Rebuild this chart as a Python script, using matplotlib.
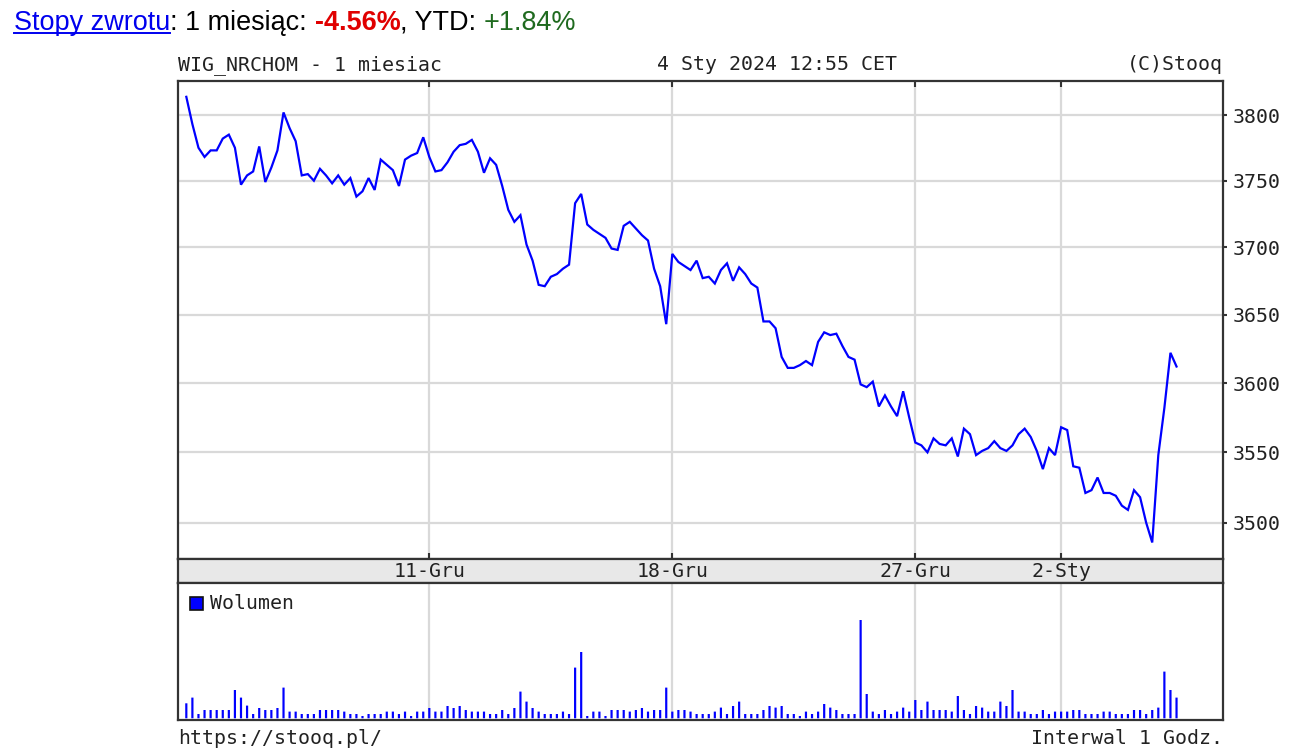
import matplotlib
matplotlib.use("Agg")
import matplotlib.pyplot as plt
from matplotlib.ticker import FixedLocator, FuncFormatter, NullLocator, NullFormatter
from matplotlib.patches import Rectangle
from matplotlib.lines import Line2D
import matplotlib.transforms as mtransforms

# ---------------- data ----------------
price = [3814, 3793, 3775, 3768, 3773, 3773, 3782, 3785, 3775, 3747,
         3754, 3757, 3776, 3749, 3760, 3773, 3802, 3790, 3780, 3754,
         3755, 3750, 3759, 3754, 3748, 3754, 3747, 3752, 3738, 3742,
         3752, 3743, 3766, 3762, 3758, 3746, 3766, 3769, 3771, 3783,
         3768, 3757, 3758, 3764, 3772, 3777, 3778, 3781, 3772, 3756,
         3767, 3762, 3746, 3728, 3719, 3724, 3702, 3690, 3672, 3671,
         3678, 3680, 3684, 3687, 3733, 3740, 3717, 3713, 3710, 3707,
         3699, 3698, 3716, 3719, 3714, 3709, 3705, 3684, 3671, 3643,
         3695, 3689, 3686, 3683, 3690, 3677, 3678, 3673, 3683, 3688,
         3675, 3685, 3680, 3673, 3670, 3645, 3645, 3640, 3619, 3611,
         3611, 3613, 3616, 3613, 3630, 3637, 3635, 3636, 3627, 3619,
         3617, 3599, 3597, 3601, 3583, 3591, 3583, 3576, 3594, 3575,
         3557, 3555, 3550, 3560, 3556, 3555, 3560, 3547, 3567, 3563,
         3548, 3551, 3553, 3558, 3553, 3551, 3555, 3563, 3567, 3561,
         3551, 3538, 3553, 3548, 3568, 3566, 3540, 3539, 3521, 3523,
         3532, 3521, 3521, 3519, 3512, 3509, 3523, 3518, 3500, 3486,
         3548, 3582, 3622, 3612]

volume = [15.0, 20.7, 4.3, 8.3, 8.3, 8.3, 8.3, 8.3, 28.3, 20.7,
          12.7, 4.3, 10.3, 8.3, 8.3, 10.3, 30.7, 6.7, 6.7, 4.3,
          4.3, 4.3, 8.3, 8.3, 8.3, 8.3, 6.7, 4.3, 4.3, 2.3,
          4.3, 4.3, 4.3, 6.7, 6.7, 4.3, 6.7, 2.3, 6.7, 6.7,
          10.3, 6.7, 6.7, 12.3, 10.3, 12.3, 8.3, 6.7, 6.7, 6.7,
          4.3, 4.3, 8.3, 4.3, 10.3, 26.7, 16.7, 10.3, 6.7, 4.3,
          4.3, 4.3, 6.7, 4.3, 50.7, 66.3, 2.3, 6.7, 6.7, 2.3,
          8.3, 8.3, 8.3, 6.7, 8.3, 10.3, 6.7, 8.3, 8.3, 30.7,
          6.7, 8.3, 8.3, 6.7, 4.3, 4.3, 4.3, 6.7, 10.7, 4.3,
          12.3, 16.7, 4.3, 4.3, 4.3, 8.3, 12.3, 10.7, 12.3, 4.3,
          4.3, 2.3, 6.7, 4.3, 6.7, 14.3, 10.7, 8.3, 4.3, 4.3,
          4.3, 98.3, 24.3, 6.7, 4.3, 8.3, 4.3, 6.7, 10.7, 6.7,
          18.3, 8.3, 16.7, 8.3, 8.3, 8.3, 6.7, 22.3, 8.3, 4.3,
          12.3, 10.7, 6.7, 6.7, 16.7, 12.3, 28.3, 6.7, 6.7, 4.3,
          4.3, 8.3, 4.3, 6.7, 6.7, 6.7, 8.3, 8.3, 4.3, 4.3,
          4.3, 6.7, 6.7, 4.3, 4.3, 4.3, 8.3, 8.3, 4.3, 8.3,
          10.7, 46.7, 28.3, 20.7]

date_tick_pos = [40, 80, 120, 144]
date_tick_labels = ["11-Gru", "18-Gru", "27-Gru", "2-Sty"]
price_ticks = [3500, 3550, 3600, 3650, 3700, 3750, 3800]

title_left = "WIG_NRCHOM - 1 miesiac"
title_mid = "4 Sty 2024 12:55 CET"
title_right = "(C)Stooq"
footer_left = "https://stooq.pl/"
footer_right = "Interwal 1 Godz."
legend_label = "Wolumen"

idx = list(range(len(price)))

# ---------------- layout ----------------
W, H = 1314, 752
fig = plt.figure(figsize=(W / 100, H / 100), dpi=100)
fig.patch.set_facecolor("white")


def fx(px):
    return px / W


def fy(py):
    return 1 - py / H


LEFT, RIGHT = 178.3, 1222.7
MAIN_TOP, MAIN_BOT = 81, 559
BAND_BOT = 583
VOL_BOT = 720

MONO = "DejaVu Sans Mono"
FS = 14.3
BORDER = "#333333"
GRID = "#d9d9d9"
BLUE = "#0000ff"
TXT = "#222222"
XLIM = (-1.32, 170.6)


def frame(a):
    for s in a.spines.values():
        s.set_color(BORDER)
        s.set_linewidth(1.6)


# main price axes
ax = fig.add_axes([fx(LEFT), fy(MAIN_BOT), fx(RIGHT - LEFT), (MAIN_BOT - MAIN_TOP) / H])
ax.set_yscale("log")
ax.set_ylim(3474.4, 3826.2)
ax.set_xlim(*XLIM)
ax.plot(idx, price, color=BLUE, lw=1.6, solid_joinstyle="miter", zorder=3)
ax.yaxis.set_major_locator(FixedLocator(price_ticks))
ax.yaxis.set_major_formatter(FuncFormatter(lambda v, p: f"{v:.0f}"))
ax.yaxis.set_minor_locator(NullLocator())
ax.yaxis.set_minor_formatter(NullFormatter())
ax.yaxis.tick_right()
ax.tick_params(axis="y", which="major", direction="out", length=3, width=1.5,
               color=BORDER, pad=4, labelsize=FS, labelcolor=TXT)
for lab in ax.get_yticklabels():
    lab.set_family(MONO)
ax.set_xticks(date_tick_pos)
ax.tick_params(axis="x", which="major", direction="in", length=4, width=1.5,
               color=BORDER, top=True, bottom=False, labelbottom=False)
ax.grid(True, color=GRID, lw=1.6, zorder=0)
ax.set_axisbelow(True)
frame(ax)

# date band
axb = fig.add_axes([fx(LEFT), fy(BAND_BOT), fx(RIGHT - LEFT), (BAND_BOT - MAIN_BOT) / H])
axb.set_facecolor("#e8e8e8")
axb.set_xlim(*XLIM)
axb.set_ylim(0, 1)
axb.set_yticks([])
axb.set_xticks(date_tick_pos)
axb.tick_params(axis="x", direction="out", length=4, width=1.5, color=BORDER,
                top=True, bottom=True, labelbottom=False)
trans = mtransforms.blended_transform_factory(axb.transData, axb.transAxes)
for pos, lab in zip(date_tick_pos, date_tick_labels):
    axb.text(pos, 0.47, lab, ha="center", va="center", transform=trans,
             family=MONO, fontsize=FS, color=TXT)
frame(axb)

# volume axes
axv = fig.add_axes([fx(LEFT), fy(VOL_BOT), fx(RIGHT - LEFT), (VOL_BOT - BAND_BOT) / H])
axv.set_xlim(*XLIM)
axv.set_ylim(-1.7, 135.3)
bars = axv.bar(idx, volume, width=0.36, color=BLUE, linewidth=0, zorder=3)
for b in bars:
    b.set_snap(False)
axv.set_yticks([])
axv.set_xticks(date_tick_pos)
axv.tick_params(axis="x", length=0, labelbottom=False)
axv.grid(True, axis="x", color=GRID, lw=1.6, zorder=0)
axv.set_axisbelow(True)
frame(axv)

# legend box
fig.patches.append(Rectangle((fx(190), fy(610)), fx(13), 13 / H, transform=fig.transFigure,
                             facecolor=BLUE, edgecolor="#111111", lw=1.2))
fig.text(fx(210), fy(603.5), legend_label, ha="left", va="center",
         family=MONO, fontsize=FS, color=TXT)

# titles
fig.text(fx(LEFT), fy(65), title_left, ha="left", va="center", family=MONO, fontsize=FS, color=TXT)
fig.text(fx(777), fy(65), title_mid, ha="center", va="center", family=MONO, fontsize=FS, color=TXT)
fig.text(fx(RIGHT), fy(65), title_right, ha="right", va="center", family=MONO, fontsize=FS, color=TXT)

# footer
fig.text(fx(LEFT), fy(739), footer_left, ha="left", va="center", family=MONO, fontsize=FS, color=TXT)
fig.text(fx(RIGHT), fy(739), footer_right, ha="right", va="center", family=MONO, fontsize=FS, color=TXT)

# header line with coloured pieces
header_parts = [("Stopy zwrotu", "#0000ee", "normal", True),
                (": 1 miesiąc: ", "#000000", "normal", False),
                ("-4.56%", "#e00000", "bold", False),
                (", YTD: ", "#000000", "normal", False),
                ("+1.84%", "#1f6a1f", "normal", False)]
renderer = fig.canvas.get_renderer()
xpos = 14.0
base_y = 29.5
for txt, col, wt, underline in header_parts:
    t = fig.text(fx(xpos), fy(base_y), txt, ha="left", va="baseline",
                 family="Liberation Sans", fontsize=19.45, color=col, fontweight=wt)
    bb = t.get_window_extent(renderer=renderer)
    if underline:
        fig.add_artist(Line2D([fx(xpos), fx(xpos + bb.width)], [fy(base_y + 3), fy(base_y + 3)],
                              transform=fig.transFigure, color=col, lw=1.4))
    xpos += bb.width

fig.savefig("out.png", dpi=100)
